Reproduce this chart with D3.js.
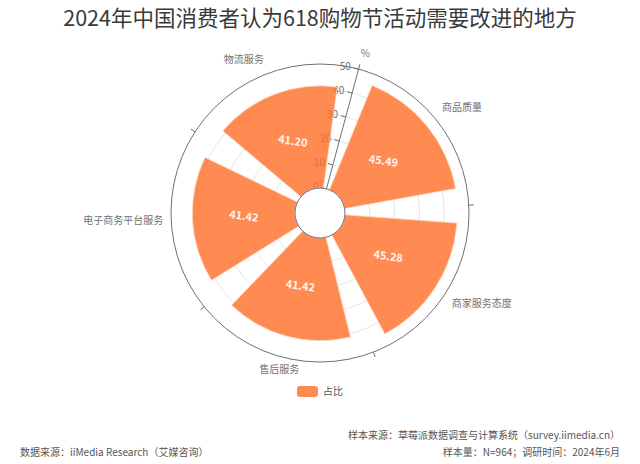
<!DOCTYPE html>
<html><head><meta charset="utf-8">
<script src="https://cdn.jsdelivr.net/npm/d3@7/dist/d3.min.js"></script>
<style>body{margin:0;background:#fff}svg{display:block}text{font-family:"Noto Sans CJK SC","Noto Sans",sans-serif}</style>
</head><body><svg id="c" width="640" height="464"></svg>
<script>
const categories = ["商品质量","商家服务态度","售后服务","电子商务平台服务","物流服务"];
const values = [45.49, 45.28, 41.42, 41.42, 41.20];
const radiusTicks = [0,10,20,30,40,50];
const seriesName = "占比";
const titleText = "2024年中国消费者认为618购物节活动需要改进的地方";
const footLeft = "数据来源：iiMedia Research（艾媒咨询）";
const footRight = ["样本来源：草莓派数据调查与计算系统（survey.iimedia.cn）","样本量：N=964；调研时间：2024年6月"];

const svg = d3.select("#c");
const cx = 320, cy = 213, r0 = 25, r1 = 149;
const startDeg = 15;
const rad = d => d*Math.PI/180;
const a = d3.scaleBand().domain(categories).range([rad(startDeg), rad(startDeg+360)]).paddingInner(0.2).paddingOuter(0.1);
const r = d3.scaleLinear().domain([0,50]).range([r0, r1]);
const step = a.step();
const g = svg.append("g").attr("transform",`translate(${cx},${cy})`);
const pt = (ang, rr) => [rr*Math.sin(ang), -rr*Math.cos(ang)];

svg.append("text").attr("x",320).attr("y",26).attr("text-anchor","middle")
  .attr("font-size",21.5).attr("fill","#3a3a3a").text(titleText);

// split circles
g.selectAll("circle.split").data(radiusTicks.slice(1,-1)).join("circle")
  .attr("r", d=>r(d)).attr("fill","none").attr("stroke","#e6e6e6").attr("stroke-width",1);

// radius axis
const axAng = rad(startDeg);
const dir = [Math.sin(axAng), -Math.cos(axAng)];
const perp = [-Math.cos(axAng), -Math.sin(axAng)];
const ra = g.append("g");
ra.selectAll("line.tk").data(radiusTicks).join("line")
  .attr("x1", d=>dir[0]*r(d)).attr("y1", d=>dir[1]*r(d))
  .attr("x2", d=>dir[0]*r(d)+perp[0]*5).attr("y2", d=>dir[1]*r(d)+perp[1]*5)
  .attr("stroke","#6E7079");
ra.selectAll("text").data(radiusTicks).join("text")
  .attr("x", d=>dir[0]*r(d)+perp[0]*8).attr("y", d=>dir[1]*r(d)+perp[1]*8)
  .attr("text-anchor","end").attr("dominant-baseline","middle")
  .attr("font-size",10).attr("fill","#6E7079").text(d=>d);

// bars
const arc = d3.arc();
g.selectAll("path.bar").data(categories).join("path")
  .attr("d",(c,i)=>arc({innerRadius:r(0), outerRadius:r(values[i]), startAngle:a(c), endAngle:a(c)+a.bandwidth()}))
  .attr("fill","#ff6d27").attr("fill-opacity",0.8)
  .attr("stroke","#ffd9c4").attr("stroke-width",0.8);

// radius axis line and name
g.append("line").attr("x1",dir[0]*r0).attr("y1",dir[1]*r0).attr("x2",dir[0]*r1).attr("y2",dir[1]*r1).attr("stroke","#6E7079");
g.append("text").attr("x",dir[0]*(r1+15)+3).attr("y",dir[1]*(r1+15)).attr("text-anchor","middle")
  .attr("dominant-baseline","middle").attr("font-size",10).attr("fill","#6E7079").text("%");

// outer & inner circles
g.append("circle").attr("r",r1).attr("fill","none").attr("stroke","#6E7079");
g.append("circle").attr("r",r0).attr("fill","#fff").attr("stroke","#6E7079");

// angle ticks
g.selectAll("line.at").data(categories).join("line")
  .attr("x1",c=>pt(a(c)-step*0.1, r1)[0]).attr("y1",c=>pt(a(c)-step*0.1, r1)[1])
  .attr("x2",c=>pt(a(c)-step*0.1, r1+5)[0]).attr("y2",c=>pt(a(c)-step*0.1, r1+5)[1])
  .attr("stroke","#6E7079");

// angle labels
g.selectAll("text.al").data(categories).join("text")
  .each(function(c){
    const ang = a(c)+a.bandwidth()/2, rr = r1+8;
    const p = pt(ang, rr);
    const ha = Math.abs(p[0])/rr < 0.3 ? "middle" : (p[0]>0 ? "start" : "end");
    const va = Math.abs(p[1])/rr < 0.3 ? 0 : (p[1]>0 ? 6 : -6);
    d3.select(this).attr("x",p[0]).attr("y",p[1]+va).attr("text-anchor",ha)
      .attr("dominant-baseline","middle").attr("font-size",10).attr("fill","#6E7079").text(c);
  });

// value labels
g.selectAll("text.vl").data(categories).join("text")
  .each(function(c,i){
    const ang = a(c)+a.bandwidth()/2, rr = (r(0)+r(values[i]))/2;
    const p = pt(ang, rr);
    d3.select(this).attr("transform",`translate(${p[0]},${p[1]}) rotate(8)`)
      .attr("text-anchor","middle").attr("dominant-baseline","middle")
      .attr("font-size",11).attr("font-weight","bold").attr("fill","#fff4ee").text(values[i].toFixed(2));
  });

// legend
svg.append("rect").attr("x",297).attr("y",386).attr("width",21).attr("height",11).attr("rx",3).attr("fill","#ff8a52");
svg.append("text").attr("x",323).attr("y",392).attr("dominant-baseline","middle").attr("font-size",10).attr("fill","#555").text(seriesName);

// footer
svg.append("text").attr("x",20).attr("y",456).attr("font-size",10).attr("fill","#555").text(footLeft);
svg.selectAll("text.fr").data(footRight).join("text")
  .attr("x",620).attr("y",(d,i)=>439+i*17).attr("text-anchor","end").attr("font-size",10).attr("fill","#555").text(d=>d);
</script></body></html>
